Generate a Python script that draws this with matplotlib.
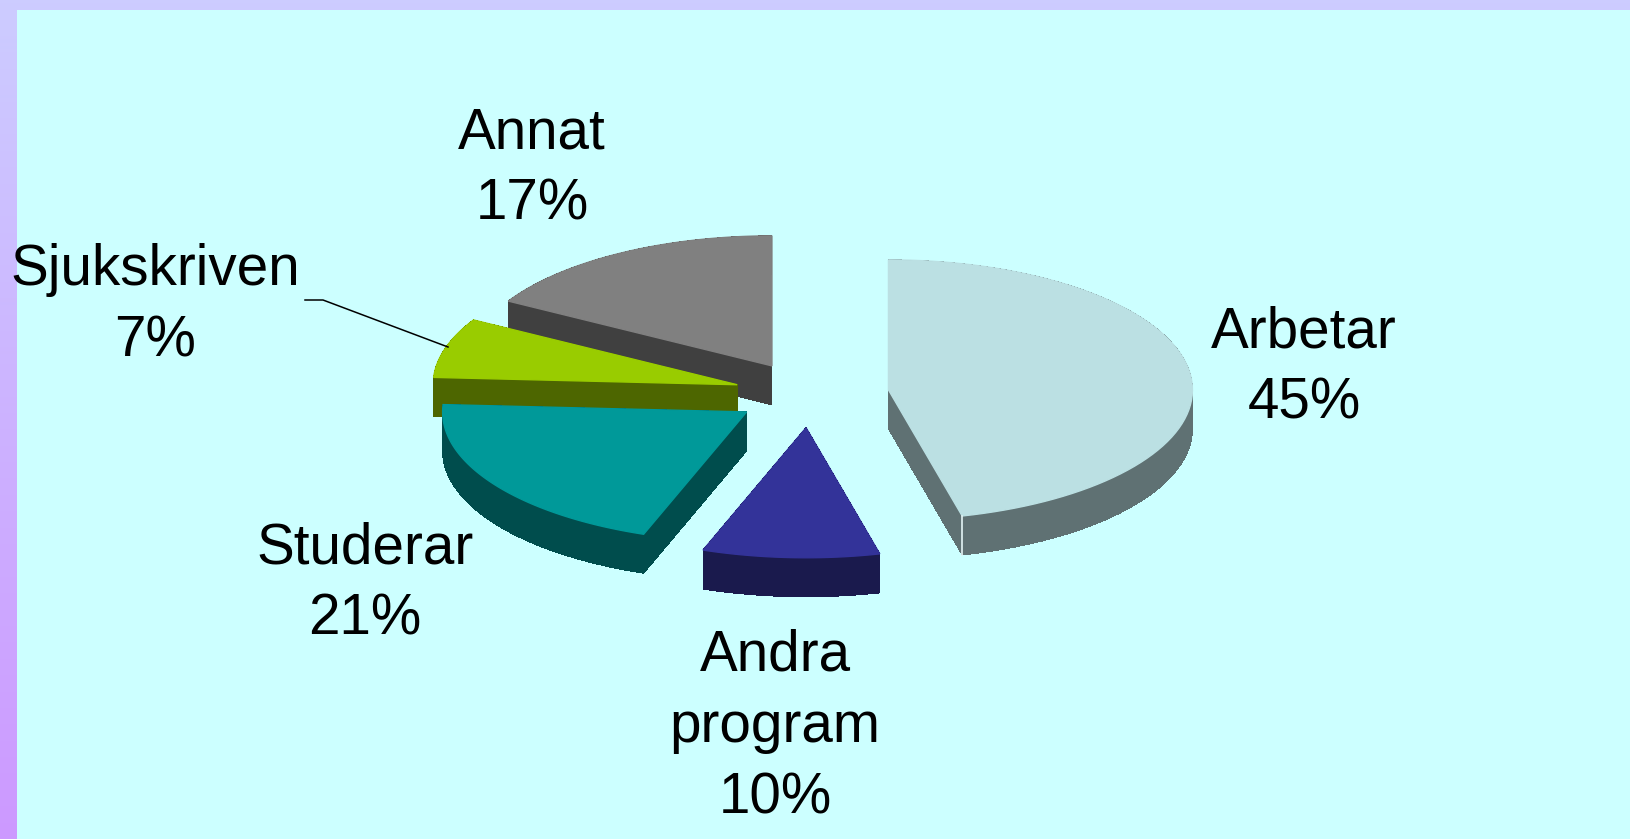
import numpy as np
import matplotlib
matplotlib.use("Agg")
import matplotlib.pyplot as plt

# DATOS (andel av cirkeln, etiketterna som de står i bilden)
categories = ["Arbetar", "Andra\nprogram", "Studerar", "Sjukskriven", "Annat"]
percent_labels = ["45%", "10%", "21%", "7%", "17%"]
shares = [46.1, 9.4, 20.4, 7.4, 16.7]
explode = [0.26, 0.26, 0.25, 0.25, 0.25]

top_colors = ["#BBE0E3", "#333399", "#009999", "#99CC00", "#808080"]
side_colors = ["#5F7173", "#1A1A4D", "#004D4D", "#4D6600", "#404040"]

# label centres in pixels
label_x = [1304, 775, 365, 155, 532]
label_y = [368, 727, 584, 306, 169]

W, H = 1631, 839
CX, CY = 810, 394
RX, RY = 304, 130
DEPTH = 39


def wedge_outline(start, stop, explode_by):
    """Apex and rim of one slice; angles in degrees clockwise from the top."""
    mid = np.radians((start + stop) / 2)
    x0 = CX + explode_by * RX * np.sin(mid)
    y0 = CY - explode_by * RY * np.cos(mid)
    t = np.radians(np.linspace(start, stop, 80))
    xs = np.r_[x0, x0 + RX * np.sin(t)]
    ys = np.r_[y0, y0 - RY * np.cos(t)]
    return xs, ys


fig = plt.figure(figsize=(W / 100, H / 100), dpi=100)
ax = fig.add_axes([0, 0, 1, 1])

# background: gradient frame and flat panel
gradient = np.linspace(0, 1, 256)[:, None, None]
frame = (1 - gradient) * np.array([0xCC, 0xCC, 0xFF]) + gradient * np.array([0xCC, 0x99, 0xFF])
ax.imshow(frame / 255, extent=(0, W, H, 0), aspect="auto", zorder=0)
ax.fill([17, W, W, 17], [10, 10, H, H], color="#CCFFFF", lw=0, zorder=1)

# angles of each slice
angles = np.cumsum(np.r_[0, shares]) / np.sum(shares) * 360
outlines = [wedge_outline(angles[i], angles[i + 1], explode[i]) for i in range(len(shares))]

# back to front: Annat first, Arbetar last
z = 2
for i in range(len(shares) - 1, -1, -1):
    xs, ys = outlines[i]
    xc, yc = np.r_[xs, xs[0]], np.r_[ys, ys[0]]
    for k in range(len(xs)):
        ax.fill([xc[k], xc[k + 1], xc[k + 1], xc[k]],
                [yc[k], yc[k + 1], yc[k + 1] + DEPTH, yc[k] + DEPTH],
                facecolor=side_colors[i], edgecolor="none", lw=0,
                antialiased=False, zorder=z)
    ax.fill(xs, ys, facecolor=top_colors[i], edgecolor=top_colors[i], lw=1.0, zorder=z + 0.5)
    z += 1

# pale edge where the Arbetar side faces meet
ax.plot([outlines[0][0][-1]] * 2, [outlines[0][1][-1], outlines[0][1][-1] + DEPTH],
        color="#E4F4F5", lw=1.2, zorder=z)

# leader line for Sjukskriven
ax.plot([305, 323, 448], [300, 300, 347], color="black", lw=1.1, zorder=z)

for i in range(len(categories)):
    ax.text(label_x[i], label_y[i], categories[i] + "\n" + percent_labels[i],
            family="Liberation Sans", fontsize=40.8, ha="center", va="center",
            linespacing=1.41, color="black", zorder=z + 1)

ax.set_xlim(0, W)
ax.set_ylim(H, 0)
ax.axis("off")
fig.savefig("out.png", dpi=100)
